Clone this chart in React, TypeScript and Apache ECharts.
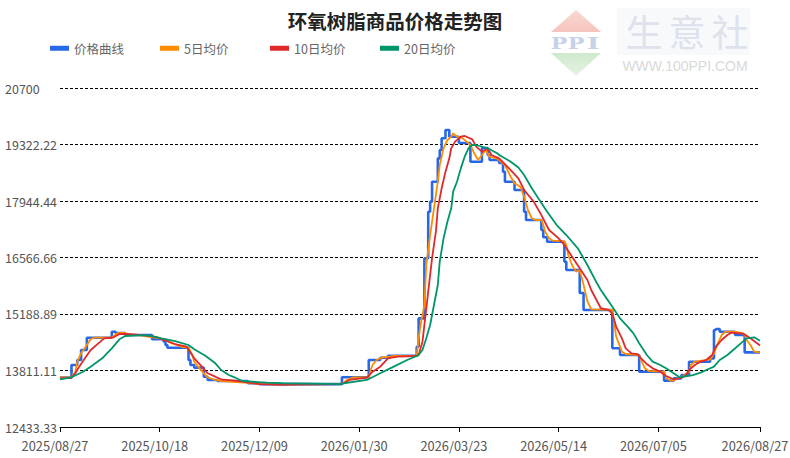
import React, { useEffect, useRef } from "react";
import * as echarts from "echarts";

// Day offsets are counted from the first date, 2025/08/27.
const startDate = "2025-08-27";
const xTickDays = [0, 52, 104, 156, 208, 260, 312, 365];
const yTickValues = [12433.33, 13811.11, 15188.89, 16566.66, 17944.44, 19322.22, 20700];

const seriesNames = ["价格曲线", "5日均价", "10日均价", "20日均价"];

// [day offset, price]
const priceCurve = [
  [0, 13640], [6, 13945], [9, 14067], [11, 14310], [14, 14610], [27, 14757], [29, 14725], [34, 14676],
  [48, 14572], [54, 14520], [55, 14433], [56, 14367], [67, 14067], [68, 13945], [70, 13880], [75, 13660],
  [77, 13580], [82, 13555], [98, 13500], [104, 13480], [147, 13645], [161, 14067], [167, 14123], [171, 14170],
  [186, 14392], [187, 15083], [190, 16547], [192, 17684], [193, 17928], [194, 18415], [197, 18985], [198, 19188],
  [199, 19473], [201, 19676], [203, 19513], [208, 19358], [214, 18903], [220, 19237], [223, 19066], [224, 18944],
  [229, 18871], [231, 18659], [232, 18415], [237, 18213], [242, 17684], [243, 17481], [251, 17237], [252, 17059],
  [254, 16952], [263, 16464], [264, 16262], [271, 15700], [273, 15286], [288, 14352], [292, 14189], [302, 13782],
  [315, 13563], [320, 13620], [324, 13700], [328, 14026], [339, 14108], [341, 14800], [342, 14823], [344, 14757],
  [352, 14676], [357, 14253], [365, 14253],
];

const ma5 = [
  [0, 13640], [6, 13640], [8, 13782], [9, 14026], [11, 14230], [14, 14433], [16, 14572], [18, 14615],
  [27, 14615], [30, 14720], [33, 14733], [36, 14690], [42, 14670], [50, 14610], [55, 14560], [58, 14480],
  [61, 14433], [64, 14380], [67, 14367], [69, 14189], [70, 14026], [72, 13905], [75, 13743], [77, 13645],
  [81, 13580], [84, 13555], [98, 13510], [104, 13485], [147, 13480], [150, 13590], [153, 13645], [161, 13650],
  [162, 13823], [163, 13945], [165, 14067], [168, 14132], [171, 14140], [174, 14165], [186, 14165], [187, 14596],
  [188, 14920], [190, 15408], [191, 16384], [193, 17115], [195, 17766], [197, 18415], [198, 18822], [200, 19230],
  [202, 19432], [204, 19513], [205, 19595], [207, 19513], [210, 19473], [214, 19310], [216, 19108], [218, 18944],
  [220, 19066], [222, 19188], [224, 19025], [228, 18980], [232, 18822], [235, 18537], [237, 18375], [240, 18294],
  [242, 18050], [244, 17725], [246, 17522], [248, 17481], [251, 17481], [252, 17359], [253, 17196], [255, 17034],
  [257, 16977], [263, 16960], [264, 16871], [265, 16627], [267, 16384], [269, 16221], [271, 16262], [273, 15900],
  [275, 15500], [277, 15300], [288, 15290], [289, 14961], [290, 14637], [292, 14392], [293, 14270], [295, 14213],
  [302, 14189], [303, 14067], [305, 13864], [307, 13799], [315, 13782], [316, 13645], [318, 13563], [320, 13563],
  [322, 13620], [325, 13677], [328, 13782], [329, 13945], [331, 14026], [339, 14080], [341, 14230], [343, 14474],
  [345, 14676], [347, 14757], [352, 14757], [354, 14740], [357, 14690], [358, 14555], [360, 14433], [362, 14270],
  [365, 14253],
];

const ma10 = [
  [0, 13621], [6, 13630], [8, 13743], [10, 13905], [13, 14108], [16, 14311], [20, 14474], [23, 14596],
  [28, 14620], [31, 14701], [35, 14701], [43, 14676], [50, 14630], [55, 14538], [60, 14457], [66, 14392],
  [70, 14108], [74, 13905], [77, 13743], [81, 13660], [84, 13597], [91, 13563], [104, 13480], [115, 13460],
  [125, 13470], [147, 13480], [151, 13580], [160, 13636], [163, 13782], [167, 13905], [171, 14108], [176, 14149],
  [186, 14165], [187, 14189], [189, 14514], [190, 14920], [192, 15733], [194, 16547], [196, 17196], [197, 17766],
  [199, 18254], [201, 18660], [203, 18985], [204, 19230], [206, 19392], [209, 19513], [211, 19530], [215, 19449],
  [217, 19269], [220, 19147], [223, 19230], [225, 19066], [229, 18985], [235, 18700], [239, 18497], [242, 18213],
  [247, 17928], [251, 17600], [255, 17237], [260, 17034], [263, 16871], [267, 16586], [271, 16303], [275, 16018],
  [277, 15774], [282, 15330], [286, 15290], [288, 15200], [290, 14880], [293, 14596], [295, 14352], [298, 14230],
  [301, 14213], [303, 14108], [306, 13969], [309, 13864], [313, 13782], [316, 13677], [320, 13597], [323, 13621],
  [326, 13677], [328, 13823], [331, 13945], [334, 14026], [337, 14067], [340, 14189], [342, 14392], [345, 14555],
  [348, 14676], [350, 14733], [354, 14717], [356, 14717], [360, 14596], [365, 14420],
];

const ma20 = [
  [0, 13597], [6, 13645], [12, 13782], [16, 13905], [22, 14108], [27, 14352], [31, 14572], [34, 14652],
  [43, 14676], [48, 14652], [53, 14595], [60, 14530], [67, 14433], [70, 14328], [76, 14165], [81, 13986],
  [84, 13823], [88, 13701], [91, 13645], [95, 13555], [108, 13514], [116, 13500], [147, 13480], [148, 13500],
  [160, 13580], [167, 13743], [174, 13905], [181, 14067], [186, 14165], [187, 14189], [189, 14311], [191, 14596],
  [193, 14920], [195, 15408], [197, 15896], [198, 16465], [200, 17034], [202, 17440], [204, 17766], [205, 18172],
  [207, 18415], [209, 18740], [211, 19025], [213, 19230], [215, 19310], [217, 19310], [223, 19230], [228, 19108],
  [229, 19066], [235, 18903], [239, 18760], [242, 18580], [246, 18254], [250, 17969], [254, 17684], [259, 17359],
  [264, 17115], [270, 16791], [275, 16384], [280, 15937], [282, 15774], [285, 15570], [288, 15367], [292, 15083],
  [296, 14880], [299, 14717], [302, 14474], [306, 14189], [309, 14026], [313, 13945], [316, 13864], [320, 13743],
  [323, 13645], [327, 13677], [330, 13701], [334, 13758], [337, 13823], [341, 13905], [344, 14067], [348, 14189],
  [351, 14311], [355, 14474], [358, 14596], [362, 14620], [365, 14538],
];

const seriesColors = ["#2768E9", "#FF8C00", "#E0292B", "#00956A"];

const FONT = '"Noto Sans CJK SC", "Noto Sans", sans-serif';
const SERIF = '"DejaVu Serif", serif';

function dayToLabel(day: number): string {
  const base = new Date(startDate + "T00:00:00Z").getTime();
  const d = new Date(base + Math.round(day) * 86400000);
  const mm = String(d.getUTCMonth() + 1).padStart(2, "0");
  const dd = String(d.getUTCDate()).padStart(2, "0");
  return `${d.getUTCFullYear()}/${mm}/${dd}`;
}

export default function App() {
  const ref = useRef<HTMLDivElement>(null);

  useEffect(() => {
    if (!ref.current) return;
    const chart = echarts.init(ref.current, undefined, { renderer: "svg" });
    const datasets = [priceCurve, ma5, ma10, ma20];
    const legendLefts = [50, 160, 270, 380];

    chart.setOption({
      animation: false,
      backgroundColor: "#ffffff",
      title: {
        text: "环氧树脂商品价格走势图",
        left: "center",
        top: 6,
        textStyle: { fontSize: 19.5, fontWeight: "bold", color: "#222", fontFamily: FONT },
      },
      legend: seriesNames.map((name, i) => ({
        data: [name],
        left: legendLefts[i],
        top: 42,
        padding: 0,
        icon: "rect",
        itemWidth: 19,
        itemHeight: 5,
        textStyle: { fontSize: 12.5, color: "#666", fontFamily: FONT },
      })),
      grid: { left: 60, right: 30, top: 88, bottom: 31, containLabel: false, outerBoundsMode: "none" },
      xAxis: {
        type: "value",
        min: 0,
        max: 365,
        axisLine: { show: true, lineStyle: { color: "#000", width: 1 } },
        axisTick: { show: true, length: 5, lineStyle: { color: "#000" }, customValues: xTickDays },
        axisLabel: {
          customValues: xTickDays,
          formatter: (v: number) => dayToLabel(v),
          fontSize: 12.8,
          color: "#555",
          fontFamily: FONT,
          margin: 12,
          padding: [0, 10, 0, 0],
        },
        splitLine: { show: false },
      },
      yAxis: {
        type: "value",
        min: 12433.33,
        max: 20700,
        axisLine: { show: false },
        axisTick: { show: false, customValues: yTickValues },
        axisLabel: {
          customValues: yTickValues,
          formatter: (v: number) => String(v),
          align: "left",
          margin: 55,
          fontSize: 12.5,
          color: "#555",
          fontFamily: FONT,
        },
        splitLine: { show: true, lineStyle: { color: "#000", type: [3, 2], width: 1 } },
      },
      graphic: [
        { type: "rect", shape: { x: 617, y: 8, width: 133, height: 47 }, style: { fill: "#f8f9fb" }, silent: true },
        {
          type: "polygon",
          shape: { points: [[576, 10], [601, 32], [551, 32]] },
          style: { fill: new echarts.graphic.LinearGradient(0, 0, 0, 1, [
            { offset: 0, color: "#f9d9d3" },
            { offset: 1, color: "#f4c4bb" },
          ]) },
          silent: true,
        },
        {
          type: "polygon",
          shape: { points: [[551, 53], [601, 53], [576, 76]] },
          style: { fill: new echarts.graphic.LinearGradient(0, 0, 0, 1, [
            { offset: 0, color: "#cfe9cd" },
            { offset: 1, color: "#e6f4e4" },
          ]) },
          silent: true,
        },
        { type: "text", x: 559, y: 43, scaleX: 1.3, style: { text: "P", fontSize: 17, fontWeight: "bold", fontFamily: SERIF, fill: "#c6d1ea", align: "center", verticalAlign: "middle" }, silent: true },
        { type: "text", x: 576, y: 43, scaleX: 1.3, style: { text: "P", fontSize: 17, fontWeight: "bold", fontFamily: SERIF, fill: "#c6d1ea", align: "center", verticalAlign: "middle" }, silent: true },
        { type: "text", x: 593, y: 43, scaleX: 1.6, style: { text: "I", fontSize: 17, fontWeight: "bold", fontFamily: SERIF, fill: "#c6d1ea", align: "center", verticalAlign: "middle" }, silent: true },
        { type: "text", x: 644, y: 31, style: { text: "生", fontSize: 37, fontFamily: FONT, fill: "#dde2ec", align: "center", verticalAlign: "middle" }, silent: true },
        { type: "text", x: 687, y: 31, style: { text: "意", fontSize: 37, fontFamily: FONT, fill: "#dde2ec", align: "center", verticalAlign: "middle" }, silent: true },
        { type: "text", x: 730, y: 31, style: { text: "社", fontSize: 37, fontFamily: FONT, fill: "#dde2ec", align: "center", verticalAlign: "middle" }, silent: true },
        { type: "text", x: 685, y: 66, style: { text: "WWW.100PPI.COM", fontSize: 14, fontFamily: '"Liberation Sans", sans-serif', fill: "#d9d9d9", align: "center", verticalAlign: "middle" }, silent: true },
      ],
      series: seriesNames.map((name, i) => ({
        name,
        type: "line",
        data: datasets[i],
        step: i === 0 ? "end" : false,
        showSymbol: false,
        symbol: "none",
        color: seriesColors[i],
        lineStyle: { color: seriesColors[i], width: i === 0 ? 2.6 : 1.8 },
        z: 2,
      })),
    });

    return () => chart.dispose();
  }, []);

  return (
    <div
      ref={ref}
      style={{ position: "fixed", left: 0, top: 0, width: 790, height: 458, background: "#fff" }}
    />
  );
}
